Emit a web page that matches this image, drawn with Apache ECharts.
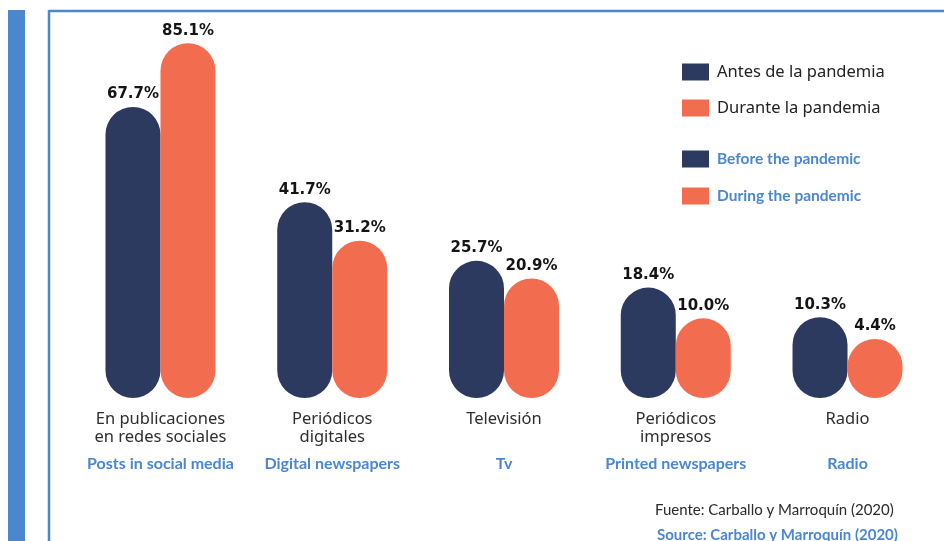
<!DOCTYPE html>
<html>
<head>
<meta charset="utf-8">
<title>Consumo de noticias antes y durante la pandemia</title>
<script src="https://cdn.jsdelivr.net/npm/echarts@6/dist/echarts.min.js"></script>
<style>
  html, body { margin: 0; padding: 0; background: #ffffff; }
  #chart { width: 944px; height: 541px; }
</style>
</head>
<body>
<div id="chart"></div>
<script>
// Categories (Spanish label lines and English translation)
const categoriesEs = [
  ['En publicaciones', 'en redes sociales'],
  ['Periódicos', 'digitales'],
  ['Televisión'],
  ['Periódicos', 'impresos'],
  ['Radio']
];
const categoriesEn = ['Posts in social media', 'Digital newspapers', 'Tv', 'Printed newspapers', 'Radio'];

// Percentages
const antesValues = [67.7, 41.7, 25.7, 18.4, 10.3];
const duranteValues = [85.1, 31.2, 20.9, 10.0, 4.4];

// Series names
const seriesEs = ['Antes de la pandemia', 'Durante la pandemia'];
const seriesEn = ['Before the pandemic', 'During the pandemic'];

const sourceEs = 'Fuente: Carballo y Marroquín (2020)';
const sourceEn = 'Source: Carballo y Marroquín (2020)';

const NAVY = '#2b3a5e';
const CORAL = '#f26d50';
const BLUE = '#4a87cf';
const BAR_W = 55;     // pill width
const BASE_EXT = 43;  // rounded foot below the zero line

const chart = echarts.init(document.getElementById('chart'), null, { renderer: 'canvas' });

// Pill-shaped bar with its value written above
function pill(side) {
  return function (params, api) {
    const idx = api.value(0);
    const v = api.value(1);
    const top = api.coord([idx, v]);
    const base = api.coord([idx, 0]);
    const x = side < 0 ? top[0] - BAR_W : top[0];
    const y = top[1];
    const h = base[1] + BASE_EXT - y;
    return {
      type: 'group',
      children: [
        {
          type: 'rect',
          shape: { x: x, y: y, width: BAR_W, height: h, r: Math.min(BAR_W, h) / 2 },
          style: { fill: api.visual('color') }
        },
        {
          type: 'text',
          style: {
            text: v.toFixed(1) + '%',
            x: x + BAR_W / 2,
            y: y - 5,
            align: 'center',
            verticalAlign: 'bottom',
            font: 'bold 15px "DejaVu Sans", sans-serif',
            fill: '#141414'
          }
        }
      ]
    };
  };
}

function catLabel(value, index) {
  const es = categoriesEs[index];
  const lines = es.map(function (l) { return '{es|' + l + '}'; });
  if (lines.length < 2) lines.push('{es| }');
  lines.push('{en|' + categoriesEn[index] + '}');
  return lines.join('\n');
}

const option = {
  backgroundColor: '#ffffff',
  animation: false,
  grid: { left: 74.6, right: 10.6, top: 25.2, bottom: 186 },
  xAxis: {
    type: 'category',
    data: categoriesEn,
    axisLine: { show: false },
    axisTick: { show: false },
    splitLine: { show: false },
    axisLabel: {
      interval: 0,
      margin: 55,
      formatter: catLabel,
      rich: {
        es: { fontFamily: 'Noto Sans', fontSize: 16.5, color: '#2e2e2e', lineHeight: 18 },
        en: { fontFamily: 'Lato', fontWeight: 'bold', fontSize: 16, color: BLUE, lineHeight: 36 }
      }
    }
  },
  yAxis: {
    type: 'value',
    min: 0,
    max: 90,
    show: false,
    splitLine: { show: false }
  },
  legend: [
    {
      data: seriesEs,
      orient: 'vertical',
      left: 682,
      top: 63.5,
      padding: 0,
      icon: 'rect',
      itemWidth: 27,
      itemHeight: 17,
      itemGap: 19,
      textStyle: { fontFamily: 'Noto Sans', fontSize: 16.5, color: '#222222', padding: [0, 0, 0, 3] }
    },
    {
      data: seriesEn,
      orient: 'vertical',
      left: 682,
      top: 150.5,
      padding: 0,
      icon: 'rect',
      itemWidth: 27,
      itemHeight: 17,
      itemGap: 20,
      textStyle: { fontFamily: 'Lato', fontWeight: 'bold', fontSize: 15.5, color: BLUE, padding: [0, 0, 0, 3] }
    }
  ],
  series: [
    {
      name: seriesEs[0],
      type: 'custom',
      color: NAVY,
      itemStyle: { color: NAVY },
      renderItem: pill(-1),
      encode: { x: 0, y: 1 },
      data: antesValues.map(function (v, i) { return [i, v]; })
    },
    {
      name: seriesEs[1],
      type: 'custom',
      color: CORAL,
      itemStyle: { color: CORAL },
      renderItem: pill(1),
      encode: { x: 0, y: 1 },
      data: duranteValues.map(function (v, i) { return [i, v]; })
    },
    {
      name: seriesEn[0],
      type: 'custom',
      color: NAVY,
      itemStyle: { color: NAVY },
      renderItem: function () { return null; },
      data: []
    },
    {
      name: seriesEn[1],
      type: 'custom',
      color: CORAL,
      itemStyle: { color: CORAL },
      renderItem: function () { return null; },
      data: []
    }
  ],
  graphic: [
    // thick side band
    { type: 'rect', shape: { x: 8, y: 10, width: 17, height: 531 }, style: { fill: BLUE } },
    // frame lines
    { type: 'line', shape: { x1: 49, y1: 11, x2: 944, y2: 11 }, style: { stroke: BLUE, lineWidth: 2.5 } },
    { type: 'line', shape: { x1: 49, y1: 10, x2: 49, y2: 541 }, style: { stroke: BLUE, lineWidth: 2.5 } },
    {
      type: 'text',
      left: 655,
      top: 503,
      style: { text: sourceEs, font: '15px Lato', fill: '#2b2b2b' }
    },
    {
      type: 'text',
      left: 657,
      top: 528,
      style: { text: sourceEn, font: 'bold 15px Lato', fill: BLUE }
    }
  ]
};

chart.setOption(option);
</script>
</body>
</html>
